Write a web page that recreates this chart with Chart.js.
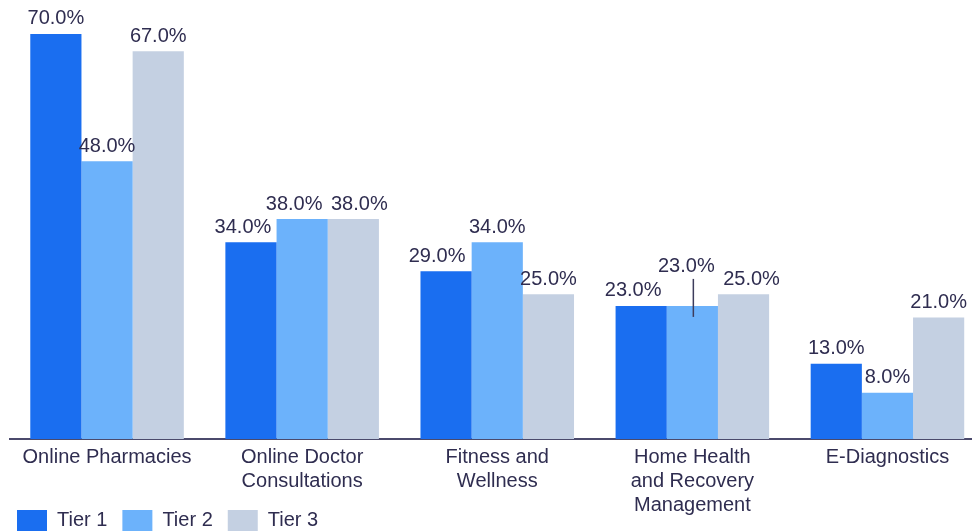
<!DOCTYPE html>
<html>
<head>
<meta charset="utf-8">
<script src="https://cdn.jsdelivr.net/npm/chart.js@4/dist/chart.umd.min.js"></script>
<style>
  html, body { margin: 0; padding: 0; background: #ffffff; overflow: hidden; width: 972px; height: 531px; }
  canvas { display: block; }
</style>
</head>
<body>
<canvas id="c" width="985" height="541"></canvas>
<script>
const categories = [
  'Online Pharmacies',
  ['Online Doctor', 'Consultations'],
  ['Fitness and', 'Wellness'],
  ['Home Health', 'and Recovery', 'Management'],
  'E-Diagnostics'
];
const seriesNames = ['Tier 1', 'Tier 2', 'Tier 3'];
const tier1 = [70, 34, 29, 23, 13];
const tier2 = [48, 38, 34, 23, 8];
const tier3 = [67, 38, 25, 25, 21];

const colors = ['#1a6ef0', '#6cb2fb', '#c4d0e2'];
const textColor = '#2f2d50';
const fontFamily = '"Liberation Sans", Arial, sans-serif';

// small horizontal nudges of value labels (dataset,index) to avoid collisions, as in the source
const labelNudge = { '0,1': -8, '1,1': -8, '2,1': 6, '0,2': -9, '0,3': -8, '1,3': -6, '2,3': 8 };

const valueLabels = {
  id: 'valueLabels',
  afterLayout(chart) {
    // let the multi-line category labels run down past the legend top (as in the source)
    chart.scales.x.bottom = chart.height;
  },
  afterDatasetsDraw(chart) {
    const ctx = chart.ctx;
    ctx.save();
    ctx.font = '20px ' + fontFamily;
    ctx.fillStyle = textColor;
    ctx.textAlign = 'center';
    ctx.textBaseline = 'middle';
    chart.data.datasets.forEach((ds, di) => {
      const meta = chart.getDatasetMeta(di);
      meta.data.forEach((bar, i) => {
        const v = ds.data[i];
        const leader = (di === 1 && i === 3);
        const off = leader ? 39 : 15;
        const dx = labelNudge[di + ',' + i] || 0;
        ctx.fillText(v.toFixed(1) + '%', bar.x + dx, bar.y - off);
        if (leader) {
          ctx.strokeStyle = '#3e3c5c';
          ctx.lineWidth = 1.5;
          ctx.beginPath();
          ctx.moveTo(bar.x + 1, bar.y - 27);
          ctx.lineTo(bar.x + 1, bar.y + 11);
          ctx.stroke();
        }
      });
    });
    ctx.restore();
  }
};

new Chart(document.getElementById('c'), {
  type: 'bar',
  data: {
    labels: categories,
    datasets: [
      { label: seriesNames[0], data: tier1, backgroundColor: colors[0] },
      { label: seriesNames[1], data: tier2, backgroundColor: colors[1] },
      { label: seriesNames[2], data: tier3, backgroundColor: colors[2] }
    ]
  },
  options: {
    responsive: false,
    animation: false,
    devicePixelRatio: 1,
    layout: { padding: { top: 5, left: 2, right: 0, bottom: 0 } },
    datasets: { bar: { categoryPercentage: 0.787, barPercentage: 1.0, borderWidth: 0 } },
    plugins: {
      tooltip: { enabled: false },
      legend: {
        position: 'bottom',
        align: 'start',
        labels: {
          boxWidth: 30,
          boxHeight: 21,
          padding: 15,
          color: textColor,
          font: { size: 20, family: fontFamily }
        }
      }
    },
    scales: {
      x: {
        offset: true,
        grid: { display: false, drawTicks: false },
        border: { display: true, color: '#4b4a6c', width: 2 },
        ticks: {
          color: textColor,
          padding: 6,
          maxRotation: 0,
          autoSkip: false,
          font: { size: 20, family: fontFamily, lineHeight: 1.2 }
        },
        afterFit(scale) { scale.height = 56; }
      },
      y: {
        min: 0,
        max: 75,
        grid: { display: false, drawTicks: false },
        border: { display: false },
        ticks: { display: false },
        afterFit(scale) { scale.width = 7.5; }
      }
    }
  },
  plugins: [valueLabels]
});
</script>
</body>
</html>
